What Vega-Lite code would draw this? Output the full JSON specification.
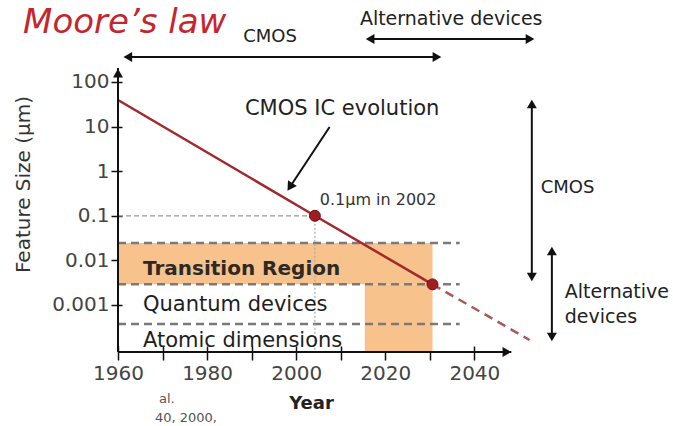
{
  "$schema": "https://vega.github.io/schema/vega-lite/v6.json",
  "width": 392,
  "height": 284,
  "autosize": {"type": "none"},
  "padding": {"left": 118, "top": 68, "right": 163, "bottom": 74},
  "background": "white",
  "config": {"view": {"stroke": null}, "font": "DejaVu Sans"},
  "datasets": {
    "bands": [
      {"year": 1960, "year2": 2030.6, "value": 0.0245, "value2": 0.0029},
      {"year": 2015.4, "year2": 2030.6, "value": 0.0029, "value2": 0.0000883}
    ],
    "boundaries": [
      {"year": 1960, "year2": 2036.7, "value": 0.0245},
      {"year": 1960, "year2": 2036.7, "value": 0.0029},
      {"year": 1960, "year2": 2036.7, "value": 0.000375}
    ],
    "ref01": [{"year": 1960, "year2": 2004.2, "value": 0.1}],
    "refV": [{"year": 2004.2, "value": 0.1, "value2": 0.0000883}],
    "trend": [
      {"year": 1960, "value": 39.5},
      {"year": 2004.2, "value": 0.1},
      {"year": 2030.6, "value": 0.0029}
    ],
    "projection": [
      {"year": 2030.6, "value": 0.0029},
      {"year": 2052.4, "value": 0.000164}
    ],
    "milestones": [
      {"year": 2004.2, "value": 0.1},
      {"year": 2030.6, "value": 0.0029}
    ],
    "yAxisLine": [{"year": 1960, "value": 0.0000883, "value2": 206}],
    "xAxisLine": [{"year": 1960, "year2": 2048.3, "value": 0.0000883}],
    "hArrows": [
      {"year": 1962.2, "year2": 2031.6, "value": 363},
      {"year": 2016.6, "year2": 2052.5, "value": 920}
    ],
    "vArrows": [
      {"year": 2052.9, "value": 32.1, "value2": 0.00425},
      {"year": 2057.4, "value": 0.01625, "value2": 0.000192}
    ],
    "dArrow": [{"year": 2007.5, "value": 9.8, "year2": 1998.6, "value2": 0.443}],
    "heads": [
      {"year": 1960, "value": 158, "dir": "up"},
      {"year": 2047.3, "value": 0.0000883, "dir": "right"},
      {"year": 1962.2, "value": 363, "dir": "left"},
      {"year": 2031.6, "value": 363, "dir": "right"},
      {"year": 2016.6, "value": 920, "dir": "left"},
      {"year": 2052.5, "value": 920, "dir": "right"},
      {"year": 2052.9, "value": 32.1, "dir": "up"},
      {"year": 2052.9, "value": 0.00425, "dir": "down"},
      {"year": 2057.4, "value": 0.01625, "dir": "up"},
      {"year": 2057.4, "value": 0.000192, "dir": "down"},
      {"year": 1998.6, "value": 0.443, "dir": "diag"}
    ],
    "title": [{"text": "Moore’s law", "year": 1938.7, "value": 1256}],
    "smallHeads": [
      {"text": "CMOS", "year": 1988.1, "value": 789},
      {"text": "CMOS", "year": 2054.9, "value": 0.324}
    ],
    "altHeads": [
      {"text": "Alternative devices", "year": 2014.3, "value": 1897},
      {"text": "Alternative", "year": 2060.3, "value": 0.001435},
      {"text": "devices", "year": 2060.3, "value": 0.000394}
    ],
    "evo": [{"text": "CMOS IC evolution", "year": 1988.5, "value": 18.2}],
    "note": [{"text": "0.1µm in 2002", "year": 2005.3, "value": 0.1746}],
    "transition": [{"text": "Transition Region", "year": 1965.6, "value": 0.00471}],
    "regions": [
      {"text": "Quantum devices", "year": 1965.6, "value": 0.000735},
      {"text": "Atomic dimensions", "year": 1965.6, "value": 0.000114}
    ],
    "fragments": [
      {"text": "al.", "year": 1969.2, "value": 0.00000635},
      {"text": "40, 2000,", "year": 1968.3, "value": 0.00000238}
    ]
  },
  "encoding": {
    "x": {
      "field": "year",
      "type": "quantitative",
      "scale": {"domain": [1960, 2048], "nice": false, "zero": false},
      "axis": {
        "values": [1960, 1970, 1980, 1990, 2000, 2010, 2020, 2030, 2040],
        "format": "d",
        "labelExpr": "datum.value % 20 === 0 ? datum.label : ''",
        "domain": false,
        "grid": false,
        "offset": -6,
        "tickSize": 14,
        "tickWidth": 1.5,
        "tickColor": "#111",
        "labelFont": "DejaVu Sans",
        "labelFontSize": 20,
        "labelColor": "#444",
        "labelPadding": 3,
        "labelFlush": false,
        "labelOverlap": false,
        "title": "Year",
        "titleFont": "DejaVu Sans",
        "titleFontSize": 18,
        "titleFontWeight": "bold",
        "titleColor": "#222",
        "titleX": 193,
        "titleY": 62,
        "titleBaseline": "alphabetic"
      }
    },
    "y": {
      "field": "value",
      "type": "quantitative",
      "scale": {"type": "log", "domain": [0.0000883, 206], "nice": false},
      "axis": {
        "values": [100, 10, 1, 0.1, 0.01, 0.001],
        "format": "~g",
        "domain": false,
        "grid": false,
        "offset": -4,
        "tickSize": 11,
        "tickWidth": 1.5,
        "tickColor": "#111",
        "labelFont": "DejaVu Sans",
        "labelFontSize": 20,
        "labelColor": "#444",
        "labelPadding": 2,
        "labelFlush": false,
        "labelOverlap": false,
        "title": "Feature Size (µm)",
        "titleFont": "DejaVu Sans",
        "titleFontSize": 20,
        "titleFontWeight": "normal",
        "titleColor": "#333",
        "titleAngle": -90,
        "titleX": -99,
        "titleY": 116,
        "titleBaseline": "middle",
        "titleAlign": "center"
      }
    }
  },
  "layer": [
    {"data": {"name": "bands"}, "mark": {"type": "rect", "color": "#f8c28c"},
     "encoding": {"x2": {"field": "year2"}, "y2": {"field": "value2"}}},
    {"data": {"name": "boundaries"}, "mark": {"type": "rule", "color": "#7a7a7a", "strokeWidth": 2.5, "strokeDash": [8, 5]},
     "encoding": {"x2": {"field": "year2"}}},
    {"data": {"name": "ref01"}, "mark": {"type": "rule", "color": "#999", "strokeWidth": 1.2, "strokeDash": [5, 3]},
     "encoding": {"x2": {"field": "year2"}}},
    {"data": {"name": "refV"}, "mark": {"type": "rule", "color": "#aaa", "strokeWidth": 1.2, "strokeDash": [2, 2]},
     "encoding": {"y2": {"field": "value2"}}},
    {"data": {"name": "transition"}, "mark": {"type": "text", "align": "left", "baseline": "alphabetic", "fontSize": 20, "fontWeight": "bold", "color": "#2d2a26"},
     "encoding": {"text": {"field": "text"}}},
    {"data": {"name": "regions"}, "mark": {"type": "text", "align": "left", "baseline": "alphabetic", "fontSize": 21, "color": "#1e1e1e"},
     "encoding": {"text": {"field": "text"}}},
    {"data": {"name": "trend"}, "mark": {"type": "line", "color": "#a3282c", "strokeWidth": 2.5},
     "encoding": {}},
    {"data": {"name": "projection"}, "mark": {"type": "line", "color": "#a85a5a", "strokeWidth": 2.5, "strokeDash": [9, 6]},
     "encoding": {}},
    {"data": {"name": "milestones"}, "mark": {"type": "point", "shape": "circle", "filled": true, "size": 120, "color": "#a01d22", "stroke": "#6b0f12", "strokeWidth": 1, "opacity": 1},
     "encoding": {}},
    {"data": {"name": "yAxisLine"}, "mark": {"type": "rule", "color": "#111", "strokeWidth": 2},
     "encoding": {"y2": {"field": "value2"}}},
    {"data": {"name": "xAxisLine"}, "mark": {"type": "rule", "color": "#111", "strokeWidth": 2},
     "encoding": {"x2": {"field": "year2"}}},
    {"data": {"name": "hArrows"}, "mark": {"type": "rule", "color": "#111", "strokeWidth": 2},
     "encoding": {"x2": {"field": "year2"}}},
    {"data": {"name": "vArrows"}, "mark": {"type": "rule", "color": "#111", "strokeWidth": 2},
     "encoding": {"y2": {"field": "value2"}}},
    {"data": {"name": "dArrow"}, "mark": {"type": "rule", "color": "#111", "strokeWidth": 2},
     "encoding": {"x2": {"field": "year2"}, "y2": {"field": "value2"}}},
    {"data": {"name": "heads"}, "transform": [{"filter": "datum.dir === 'up'"}],
     "mark": {"type": "point", "shape": "triangle-up", "filled": true, "size": 100, "color": "#111", "opacity": 1}, "encoding": {}},
    {"data": {"name": "heads"}, "transform": [{"filter": "datum.dir === 'down'"}],
     "mark": {"type": "point", "shape": "triangle-down", "filled": true, "size": 100, "color": "#111", "opacity": 1}, "encoding": {}},
    {"data": {"name": "heads"}, "transform": [{"filter": "datum.dir === 'left'"}],
     "mark": {"type": "point", "shape": "triangle-left", "filled": true, "size": 100, "color": "#111", "opacity": 1}, "encoding": {}},
    {"data": {"name": "heads"}, "transform": [{"filter": "datum.dir === 'right'"}],
     "mark": {"type": "point", "shape": "triangle-right", "filled": true, "size": 100, "color": "#111", "opacity": 1}, "encoding": {}},
    {"data": {"name": "heads"}, "transform": [{"filter": "datum.dir === 'diag'"}],
     "mark": {"type": "point", "shape": "triangle-up", "angle": 213, "filled": true, "size": 110, "color": "#111", "opacity": 1}, "encoding": {}},
    {"data": {"name": "title"}, "mark": {"type": "text", "align": "left", "baseline": "alphabetic", "fontSize": 34, "fontStyle": "italic", "color": "#c4262e"},
     "encoding": {"text": {"field": "text"}}},
    {"data": {"name": "smallHeads"}, "mark": {"type": "text", "align": "left", "baseline": "alphabetic", "fontSize": 18, "color": "#222"},
     "encoding": {"text": {"field": "text"}}},
    {"data": {"name": "altHeads"}, "mark": {"type": "text", "align": "left", "baseline": "alphabetic", "fontSize": 19, "color": "#222"},
     "encoding": {"text": {"field": "text"}}},
    {"data": {"name": "evo"}, "mark": {"type": "text", "align": "left", "baseline": "alphabetic", "fontSize": 21, "color": "#222"},
     "encoding": {"text": {"field": "text"}}},
    {"data": {"name": "note"}, "mark": {"type": "text", "align": "left", "baseline": "alphabetic", "fontSize": 16, "color": "#333"},
     "encoding": {"text": {"field": "text"}}},
    {"data": {"name": "fragments"}, "mark": {"type": "text", "align": "left", "baseline": "alphabetic", "fontSize": 13, "color": "#555"},
     "encoding": {"text": {"field": "text"}}}
  ]
}
